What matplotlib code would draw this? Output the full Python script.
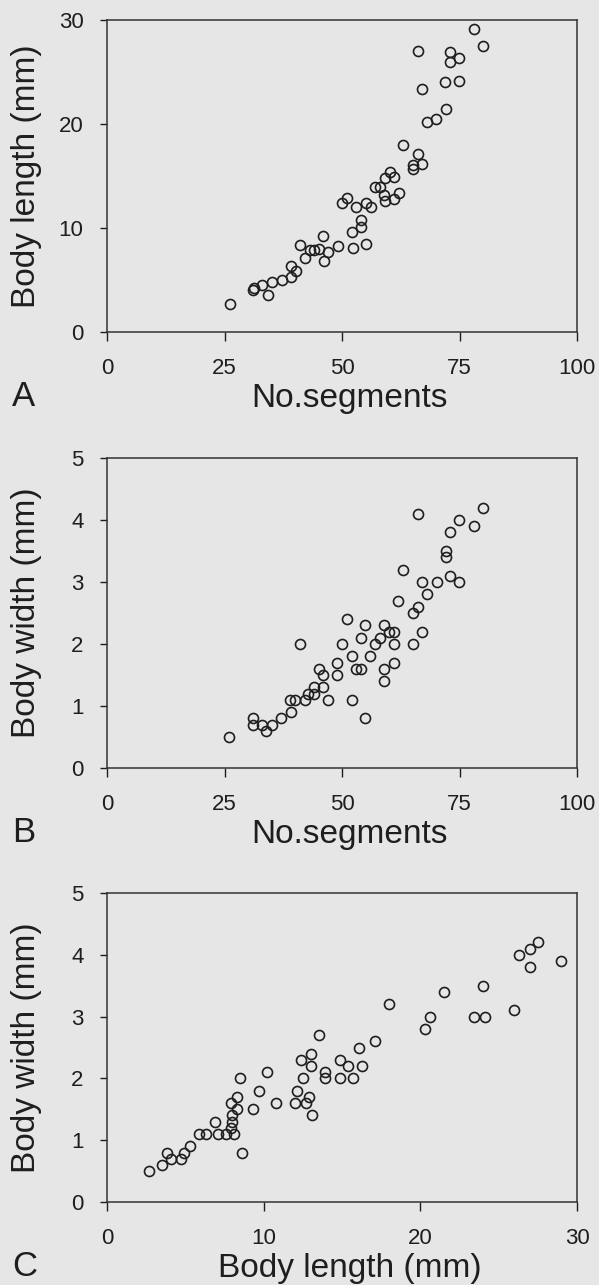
import numpy as np
import matplotlib.pyplot as plt

plt.rcParams['font.family'] = ['Liberation Sans', 'DejaVu Sans']

# Panel A: numero de segmentos vs longitud del cuerpo
seg_a = [26.1, 31.0, 31.2, 33.0, 34.2, 35.1, 37.2, 39.2, 39.2, 40.2, 41.1, 42.1, 43.2, 44.1, 45.2,
         46.0, 46.2, 47.1, 49.1, 49.9, 51.0, 52.1, 52.3, 53.0, 54.0, 54.0, 55.0, 55.1, 56.2, 57.0,
         58.1, 59.1, 59.0, 59.2, 60.2, 61.1, 61.1, 62.2, 62.9, 65.0, 65.0, 66.1, 67.0, 66.1, 67.0,
         68.1, 70.1, 72.1, 72.0, 74.9, 72.9, 72.9, 74.9, 78.1, 80.1]
len_a = [2.7, 4.0, 4.2, 4.5, 3.6, 4.8, 5.0, 5.3, 6.3, 5.9, 8.4, 7.1, 7.9, 7.9, 8.0,
         9.2, 6.8, 7.7, 8.3, 12.4, 12.9, 9.6, 8.1, 12.0, 10.8, 10.1, 12.4, 8.5, 12.0, 13.9,
         13.9, 12.6, 13.2, 14.8, 15.4, 14.9, 12.8, 13.4, 18.0, 15.7, 16.1, 17.1, 16.2, 27.0, 23.4,
         20.2, 20.5, 21.4, 24.0, 24.1, 26.9, 26.0, 26.3, 29.1, 27.5]

# Panel B: numero de segmentos vs ancho del cuerpo
seg_b = [26.0, 31.0, 31.0, 32.9, 33.9, 35.2, 37.1, 39.1, 38.9, 40.0, 41.1, 42.1, 42.8, 44.0, 44.0,
         45.0, 46.0, 46.0, 47.1, 48.9, 49.0, 49.9, 51.0, 52.1, 52.1, 53.0, 54.0, 54.0, 54.9, 54.9,
         56.0, 57.0, 58.1, 58.9, 58.9, 58.9, 59.9, 61.1, 61.1, 61.1, 62.0, 62.9, 65.1, 65.1, 66.1,
         66.1, 67.0, 67.0, 68.0, 70.2, 72.2, 72.2, 72.9, 73.0, 74.9, 74.9, 78.0, 80.1]
wid_b = [0.5, 0.8, 0.7, 0.7, 0.6, 0.7, 0.8, 0.9, 1.1, 1.1, 2.0, 1.1, 1.2, 1.3, 1.2,
         1.6, 1.5, 1.3, 1.1, 1.7, 1.5, 2.0, 2.4, 1.8, 1.1, 1.6, 1.6, 2.1, 2.3, 0.8,
         1.8, 2.0, 2.1, 2.3, 1.6, 1.4, 2.2, 2.2, 2.0, 1.7, 2.7, 3.2, 2.5, 2.0, 2.6,
         4.1, 2.2, 3.0, 2.8, 3.0, 3.5, 3.4, 3.8, 3.1, 4.0, 3.0, 3.9, 4.2]

# Panel C: longitud vs ancho
len_c = [2.7, 3.5, 3.8, 4.1, 4.7, 4.9, 5.3, 5.9, 6.3, 6.9, 7.1, 7.6, 7.9, 8.0, 8.0,
         8.1, 7.9, 8.3, 8.3, 8.5, 8.6, 9.3, 9.7, 10.2, 10.8, 12.0, 12.1, 12.5, 12.4, 13.0,
         13.0, 12.7, 12.9, 13.1, 13.5, 13.9, 13.9, 14.9, 14.9, 15.4, 15.7, 16.3, 16.1, 17.1, 18.0,
         20.3, 20.6, 21.5, 23.4, 24.1, 24.0, 26.0, 26.3, 27.0, 27.0, 27.5, 29.0]
wid_c = [0.5, 0.6, 0.8, 0.7, 0.7, 0.8, 0.9, 1.1, 1.1, 1.3, 1.1, 1.1, 1.2, 1.3, 1.4,
         1.1, 1.6, 1.7, 1.5, 2.0, 0.8, 1.5, 1.8, 2.1, 1.6, 1.6, 1.8, 2.0, 2.3, 2.4,
         2.2, 1.6, 1.7, 1.4, 2.7, 2.1, 2.0, 2.3, 2.0, 2.2, 2.0, 2.2, 2.5, 2.6, 3.2,
         2.8, 3.0, 3.4, 3.0, 3.0, 3.5, 3.1, 4.0, 4.1, 3.8, 4.2, 3.9]

seg_ticks = [0, 25, 50, 75, 100]
len_ticks = [0, 10, 20, 30]
wid_ticks = [0, 1, 2, 3, 4, 5]

bg = '#e6e6e6'
ink = '#1e1e1e'
W, H = 599, 1285

fig = plt.figure(figsize=(W / 100, H / 100), dpi=100, facecolor=bg)


def panel(top, bottom, x, y, xticks, yticks, xlabel, ylabel, letter):
    left, right = 107, 577
    ax = fig.add_axes([left / W, 1 - bottom / H, (right - left) / W, (bottom - top) / H])
    ax.set_facecolor(bg)
    ax.plot(x, y, 'o', ms=7.2, mew=1.2, mfc='none', mec=ink)
    ax.set_xlim(xticks[0], xticks[-1])
    ax.set_ylim(yticks[0], yticks[-1])
    ax.set_xticks(xticks)
    ax.set_yticks(yticks)
    ax.tick_params(axis='x', direction='out', length=6.5, width=1, pad=12.5, labelsize=16, colors=ink)
    ax.tick_params(axis='y', direction='out', length=5, width=1, pad=12, labelsize=16, colors=ink)
    for s in ax.spines.values():
        s.set_linewidth(1.1)
        s.set_color('#333333')
    ax.set_xlabel(xlabel, fontsize=24, color=ink, va='baseline')
    ax.xaxis.set_label_coords((350 - left) / (right - left), -75 / (bottom - top))
    ax.set_ylabel(ylabel, fontsize=24, color=ink)
    ax.yaxis.set_label_coords(-(left - 42) / (right - left), 0.5)
    fig.text(12 / W, 1 - (bottom + 74) / H, letter, fontsize=25, color=ink, va='baseline')
    return ax


panel(20, 332, seg_a, len_a, seg_ticks, len_ticks, 'No.segments', 'Body length (mm)', 'A')
panel(458, 768, seg_b, wid_b, seg_ticks, wid_ticks, 'No.segments', 'Body width (mm)', 'B')
panel(893, 1202, len_c, wid_c, len_ticks, wid_ticks, 'Body length (mm)', 'Body width (mm)', 'C')

plt.savefig('out.png', dpi=100, facecolor=bg)
